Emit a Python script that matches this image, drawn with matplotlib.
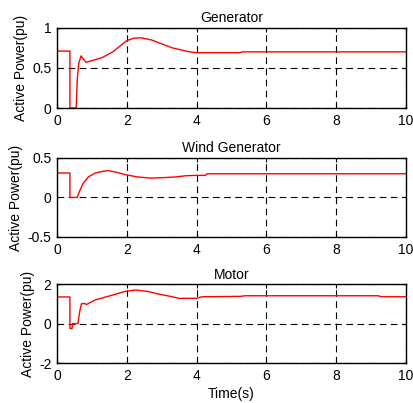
import numpy as np
import matplotlib.pyplot as plt

plt.rcParams['font.family'] = ['Liberation Sans', 'DejaVu Sans']
plt.rcParams['font.size'] = 10

# generator active power (pu)
gen_t = [0, 0.37, 0.37, 0.55, 0.58, 0.62, 0.69, 0.74, 0.83, 1.0, 1.3, 1.6, 2.0, 2.2, 2.4,
         2.7, 3.0, 3.3, 3.6, 3.8, 4.0, 5.25, 5.3, 10]
gen_p = [0.71, 0.71, 0.0, 0.0, 0.35, 0.55, 0.65, 0.62, 0.57, 0.59, 0.63, 0.70, 0.84, 0.87, 0.875,
         0.85, 0.80, 0.75, 0.72, 0.70, 0.69, 0.69, 0.70, 0.70]

# wind generator active power (pu)
wind_t = [0, 0.37, 0.37, 0.58, 0.62, 0.75, 0.9, 1.1, 1.3, 1.45, 1.7, 1.95, 2.3, 2.7,
          3.0, 3.4, 3.7, 4.0, 4.25, 4.3, 10]
wind_p = [0.31, 0.31, 0.0, 0.0, 0.05, 0.18, 0.26, 0.31, 0.33, 0.34, 0.32, 0.29, 0.26, 0.245,
          0.25, 0.26, 0.275, 0.28, 0.28, 0.30, 0.30]

# motor active power (pu)
mot_t = [0, 0.37, 0.37, 0.43, 0.45, 0.6, 0.65, 0.7, 0.78, 0.85, 1.1, 1.5, 1.95, 2.25,
         2.6, 2.9, 3.25, 3.5, 4.0, 4.15, 5.25, 5.4, 9.2, 9.3, 10]
mot_p = [1.35, 1.35, -0.25, -0.25, 0.0, 0.0, 0.6, 1.0, 1.02, 0.97, 1.2, 1.4, 1.63, 1.70,
         1.63, 1.5, 1.38, 1.28, 1.28, 1.36, 1.38, 1.41, 1.41, 1.36, 1.36]

titles = ['Generator', 'Wind Generator', 'Motor']
ylims = [(0, 1), (-0.5, 0.5), (-2, 2)]
yticks = [[0, 0.5, 1], [-0.5, 0, 0.5], [-2, 0, 2]]
ytick_labels = [['0', '0.5', '1'], ['-0.5', '0', '0.5'], ['-2', '0', '2']]
xticks = [0, 2, 4, 6, 8, 10]

fig = plt.figure(figsize=(4.13, 4.03), dpi=100)
boxes = [[0.138, 0.732, 0.845, 0.199],
         [0.138, 0.412, 0.845, 0.196],
         [0.138, 0.099, 0.845, 0.196]]
series = [(gen_t, gen_p), (wind_t, wind_p), (mot_t, mot_p)]

for i, (t, p) in enumerate(series):
    ax = fig.add_axes(boxes[i])
    ax.plot(t, p, color='red', lw=1.0)
    ax.set_xlim(0, 10)
    ax.set_ylim(*ylims[i])
    ax.set_xticks(xticks)
    ax.set_xticklabels([str(x) for x in xticks])
    ax.set_yticks(yticks[i])
    ax.set_yticklabels(ytick_labels[i])
    ax.grid(True, color='black', linestyle=(0, (6, 4)), lw=0.8)
    ax.tick_params(direction='in', length=3, top=True, right=True, pad=4)
    for s in ax.spines.values():
        s.set_linewidth(1.0)
    ax.set_title(titles[i], fontsize=10, pad=4)
    ax.set_ylabel('Active Power(pu)', labelpad=3)

ax.set_xlabel('Time(s)', labelpad=3)

fig.savefig('out.png', dpi=100)
